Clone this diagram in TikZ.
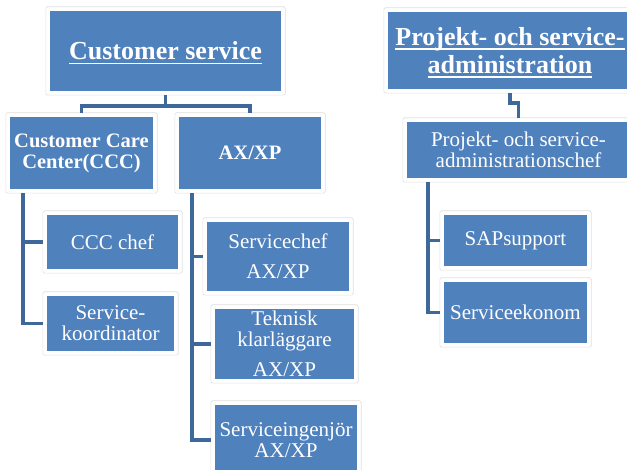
\documentclass[tikz,border=0pt]{standalone}
\usepackage{fontspec}
\setmainfont{Liberation Serif}
\usetikzlibrary{backgrounds}
\definecolor{boxblue}{HTML}{4F81BD}
\definecolor{linecol}{HTML}{3D6899}
\newcommand\myul[1]{\setbox0\hbox{#1}\rlap{\smash{\rule[-4.5pt]{\wd0}{1.6pt}}}\box0}
\begin{document}
\begin{tikzpicture}[x=1pt,y=-1pt,
  box/.style={fill=boxblue,text=white,align=center,inner sep=0pt,font=\fontsize{21}{21}\selectfont},
  head/.style={box,font=\bfseries\fontsize{26}{28}\selectfont},
  sub/.style={box,font=\bfseries\fontsize{20.5}{21}\selectfont},
  sz/.style 2 args={minimum width=#1pt,minimum height=#2pt},
  conn/.style={draw=linecol,line width=3.8pt},
  frame/.style={draw=black!12,fill=white,line width=0.6pt,rounded corners=1.5pt}]
\useasboundingbox (0,0) rectangle (627,470);
\clip (0,0) rectangle (627,470);

\node[head,sz={231}{80}] (cs) at (165.5,51) {\myul{Customer service}};
\node[sub,sz={143}{72}] (ccc) at (81.5,153) {Customer Care\\Center(CCC)};
\node[sub,sz={142}{72}] (ax) at (250,153) {AX/XP};
\node[box,sz={131}{54}] (cccchef) at (112.5,242) {CCC chef};
\node[box,sz={127}{55}] (koord) at (110.5,323.5) {Service-\\koordinator};
\node[box,sz={142}{69}] (schef) at (278,256.5) {Servicechef\\[9pt]AX/XP};
\node[box,sz={139}{70}] (tek) at (284.5,344) {Teknisk\\klarläggare\\[9pt]AX/XP};
\node[box,sz={142}{70}] (sing) at (286,440) {Serviceingenjör\\AX/XP};

\node[head,sz={244}{77}] (pa) at (510,50.5) {\myul{Projekt- och service-}\\\myul{administration}};
\node[box,sz={223}{56}] (pac) at (518.5,150) {Projekt- och service-\\administrationschef};
\node[box,sz={143}{51}] (sap) at (515.5,240.5) {SAPsupport};
\node[box,sz={143}{61}] (sek) at (515.5,312.5) {Serviceekonom};

\begin{scope}[on background layer]
  \clip (0,0) rectangle (627,470);
  \fill[white] (0,0) rectangle (627,470);
  \foreach \n in {cs,ccc,ax,cccchef,koord,schef,tek,sing,pa,pac,sap,sek}
    \draw[frame] ([xshift=-4pt,yshift=4pt]\n.north west) rectangle ([xshift=4pt,yshift=-4pt]\n.south east);
\end{scope}

\draw[conn,shorten <=4pt,shorten >=4pt] (cs.south) -- ++(0,15) -| (ccc.north);
\draw[conn,shorten <=4pt,shorten >=4pt] (cs.south) -- ++(0,15) -| (ax.north);

\draw[conn,shorten >=4pt] ([xshift=13pt,yshift=-4pt]ccc.south west) |- (cccchef.west);
\draw[conn,shorten >=4pt] ([xshift=13pt,yshift=-4pt]ccc.south west) |- (koord.west);

\draw[conn,shorten >=4pt] ([xshift=13pt,yshift=-4pt]ax.south west) |- (schef.west);
\draw[conn,shorten >=4pt] ([xshift=13pt,yshift=-4pt]ax.south west) |- (tek.west);
\draw[conn,shorten >=4pt] ([xshift=13pt,yshift=-4pt]ax.south west) |- (sing.west);

\draw[conn,shorten <=4pt,shorten >=4pt] (pa.south) -- ++(0,14) -| (pac.north);

\draw[conn,shorten >=4pt] ([xshift=21pt,yshift=-4pt]pac.south west) |- (sap.west);
\draw[conn,shorten >=4pt] ([xshift=21pt,yshift=-4pt]pac.south west) |- (sek.west);
\end{tikzpicture}
\end{document}
